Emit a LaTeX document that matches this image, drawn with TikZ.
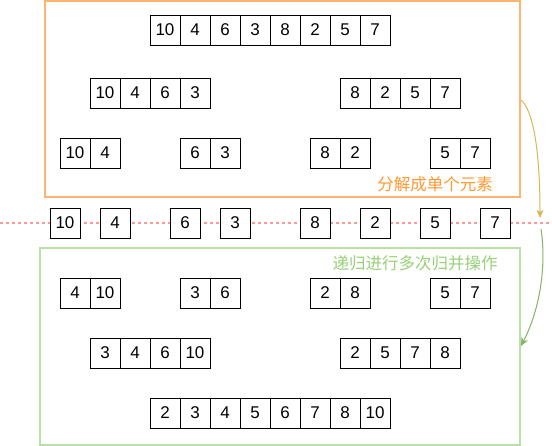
\documentclass[tikz,border=0pt]{standalone}
\usepackage{fontspec}
\setmainfont{Liberation Sans}
\newfontfamily\cjk{Noto Sans CJK SC}
\usetikzlibrary{arrows.meta}
\definecolor{obox}{HTML}{FFB570}
\definecolor{gbox}{HTML}{B9E0A5}
\definecolor{otext}{HTML}{FF9933}
\definecolor{gtext}{HTML}{97D077}
\definecolor{goldarrow}{HTML}{D6B656}
\definecolor{greenarrow}{HTML}{82B366}
\definecolor{pinkline}{HTML}{FF9999}
\tikzset{
  cell/.style={draw=black, line width=0.9pt, fill=white, minimum size=30pt, inner sep=0pt, font=\fontsize{17}{20}\selectfont},
  groupbox/.style={line width=2pt},
  lbl/.style={font=\cjk\fontsize{16.5}{19}\selectfont, inner sep=0pt},
}
\newcommand\cellrow[4]{%
  \foreach \v [count=\i] in {#4} {
    \node[cell] (#1\i) at ({#2+30*\i-15}, #3) {\v};
  }%
}
\begin{document}
\begin{tikzpicture}[x=1pt, y=-1pt]
\useasboundingbox (0,0) rectangle (552,446);
% group boxes
\draw[groupbox, draw=obox] (45,1) rectangle (520,197);
\draw[groupbox, draw=gbox] (40,248) rectangle (520,445);
% separator
\coordinate (sepL) at (0,223);
\coordinate (sepR) at (552,223);
\draw[pinkline, line width=2pt, dash pattern=on 3pt off 3pt] (sepL) -- (sepR);
% split rows
\cellrow{t}{150}{30}{10,4,6,3,8,2,5,7}
\cellrow{la}{90}{93}{10,4,6,3}
\cellrow{lb}{340}{93}{8,2,5,7}
\cellrow{ma}{60}{153}{10,4}
\cellrow{mb}{180}{153}{6,3}
\cellrow{mc}{310}{153}{8,2}
\cellrow{md}{430}{153}{5,7}
% singles
\node[cell] (s1) at (65,223) {10};
\node[cell] (s2) at (115,223) {4};
\node[cell] (s3) at (185,223) {6};
\node[cell] (s4) at (235,223) {3};
\node[cell] (s5) at (315,223) {8};
\node[cell] (s6) at (375,223) {2};
\node[cell] (s7) at (435,223) {5};
\node[cell] (s8) at (495,223) {7};
% merge rows
\cellrow{ra}{60}{293}{4,10}
\cellrow{rb}{180}{293}{3,6}
\cellrow{rc}{310}{293}{2,8}
\cellrow{rd}{430}{293}{5,7}
\cellrow{qa}{90}{353}{3,4,6,10}
\cellrow{qb}{340}{353}{2,5,7,8}
\cellrow{f}{150}{413}{2,3,4,5,6,7,8,10}
% labels
\node[lbl, text=otext] (lsplit) at (435,184) {分解成单个元素};
\node[lbl, text=gtext] (lmerge) at (415,263) {递归进行多次归并操作};
% arrows
\coordinate (a1s) at (521,100);
\coordinate (a1e) at (540,218);
\coordinate (a2s) at (541,229);
\coordinate (a2e) at (521,346);
\draw[goldarrow, line width=1pt, -{Stealth[length=8pt,width=7pt,inset=2pt]}] (a1s) .. controls (533,110) and (540,150) .. (a1e);
\draw[greenarrow, line width=1pt, -{Stealth[length=8pt,width=7pt,inset=2pt]}] (a2s) .. controls (546,260) and (542,305) .. (a2e);
\end{tikzpicture}
\end{document}
